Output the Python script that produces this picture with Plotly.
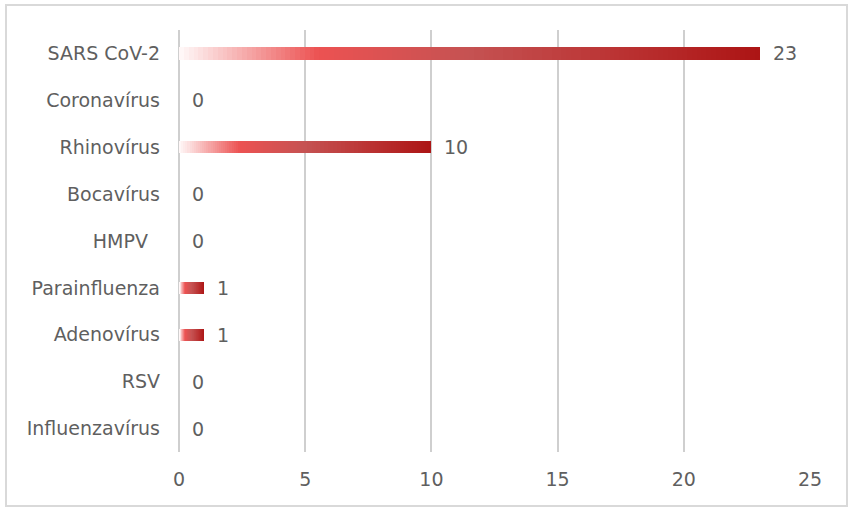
import plotly.graph_objects as go

categories = ["Influenzavírus", "RSV", "Adenovírus", "Parainfluenza", "HMPV\u00a0\u00a0",
              "Bocavírus", "Rhinovírus", "Coronavírus", "SARS CoV-2"]
values = [0, 0, 1, 1, 0, 0, 10, 0, 23]
tick_vals = [0, 5, 10, 15, 20, 25]

# gradient stops (fraction of bar length -> rgb)
stops = [(0.0, (255, 250, 250)), (0.24, (236, 82, 82)), (0.5, (197, 82, 82)),
         (0.75, (187, 52, 52)), (1.0, (172, 20, 20))]

def grad(f):
    for (a, ca), (b, cb) in zip(stops[:-1], stops[1:]):
        if a <= f <= b:
            t = (f - a) / (b - a) if b > a else 0
            c = [round(ca[i] + (cb[i] - ca[i]) * t) for i in range(3)]
            return f"rgb({c[0]},{c[1]},{c[2]})"
    return f"rgb{stops[-1][1]}"

FONT = "'DejaVu Sans', sans-serif"
FS = 19
TXT = "#5f5f5f"
N = 120
fig = go.Figure()
for k in range(N):
    f = 1 - k / N
    fig.add_trace(go.Bar(
        y=categories, x=[v * f for v in values], orientation="h",
        marker=dict(color=grad(f - 0.5 / N), line=dict(width=0)),
        width=0.26, hoverinfo="skip", showlegend=False))

for c, v in zip(categories, values):
    fig.add_annotation(x=v, y=c, text=str(v), showarrow=False, xanchor="left",
                       xshift=11, font=dict(family=FONT, size=FS, color=TXT))

L, R, T, B = 179, 43, 30, 60
PW, PH = 853 - L - R, 512 - T - B
fig.update_layout(
    barmode="overlay", bargap=0,
    width=853, height=512,
    margin=dict(l=L, r=R, t=T, b=B, autoexpand=False),
    paper_bgcolor="white", plot_bgcolor="white",
    font=dict(family=FONT, size=FS, color=TXT),
    xaxis=dict(range=[0, 25], tickvals=tick_vals, showgrid=True, gridcolor="#cfcfcf",
               gridwidth=1.5, zeroline=True, zerolinecolor="#cfcfcf", zerolinewidth=1.5,
               showline=False, ticks="", ticklen=0, automargin=False, ticklabelstandoff=14,
               tickfont=dict(family=FONT, size=FS, color=TXT)),
    yaxis=dict(categoryorder="array", categoryarray=categories, range=[-0.5, 8.5],
               showgrid=False, showline=False, ticks="", ticklabelstandoff=18,
               automargin=False, tickfont=dict(family=FONT, size=FS, color=TXT)),
    shapes=[dict(type="rect", xref="paper", yref="paper",
                 x0=(6 - L) / PW, x1=(847 - L) / PW,
                 y0=(512 - 506 - B) / PH, y1=(512 - 5 - B) / PH,
                 line=dict(color="#d9d9d9", width=2), layer="below")],
)
fig.write_html("out.html", config={"displayModeBar": False},
               post_script="document.body.style.margin='0';")
